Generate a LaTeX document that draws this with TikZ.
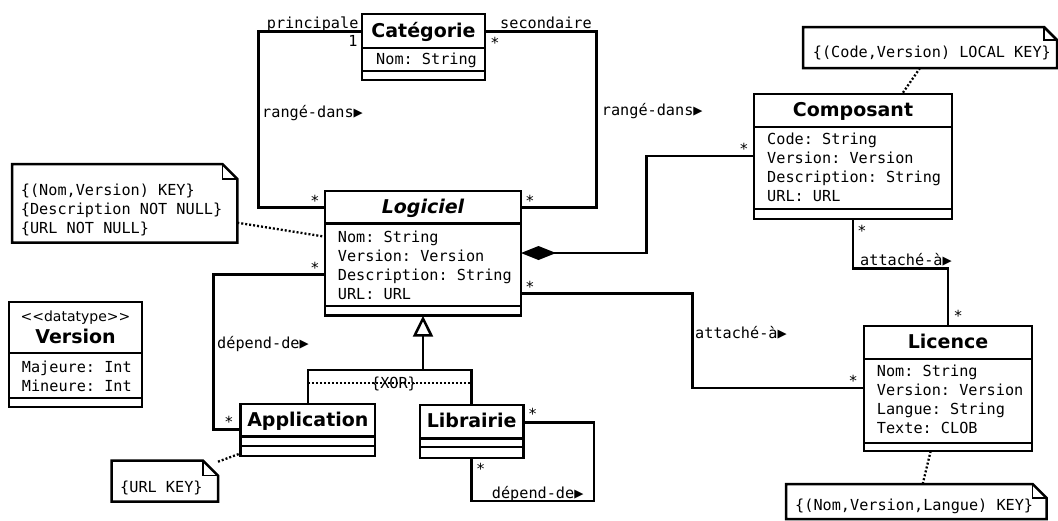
\documentclass[tikz,border=0pt]{standalone}
\usepackage{fontspec}
\setsansfont{DejaVu Sans}
\setmonofont{DejaVu Sans Mono}
\usetikzlibrary{arrows.meta}

\tikzset{
  x=1pt, y=-1pt,
  umlline/.style={line width=2.5pt, line join=miter},
  classbox/.style={draw, line width=2.6pt, fill=white, inner sep=0pt, outer sep=0pt, anchor=north west},
  sepline/.style={line width=2.6pt},
  cname/.style={font=\sffamily\bfseries\fontsize{19}{22}\selectfont, inner sep=0pt, text height=13.6pt, text depth=0pt},
  stereo/.style={font=\sffamily\fontsize{14}{17}\selectfont, inner sep=0pt, text height=10.5pt, text depth=0pt},
  attr/.style={font=\ttfamily\fontsize{15.2}{19}\selectfont, inner sep=0pt, anchor=west, text height=11pt, text depth=0pt},
  lbl/.style={attr},
  mult/.style={attr, anchor=center, yshift=-3.5pt},
  notebox/.style={inner sep=0pt, outer sep=0pt, anchor=north west},
  noteline/.style={line width=2.5pt, line join=miter},
  fold/.style={line width=1.2pt},
  link/.style={line width=2.3pt, dash pattern=on 2pt off 2pt},
}

\begin{document}
\begin{tikzpicture}
\fill[white] (0,0) rectangle (1058,520);
\useasboundingbox (0,0) rectangle (1058,520);

% ---------- classes ----------
% Categorie
\node[classbox, minimum width=123pt, minimum height=66pt] (categorie) at (362,14) {};
\draw[sepline] (categorie.west |- 0,48) -- (categorie.east |- 0,48);
\draw[sepline] (categorie.west |- 0,71) -- (categorie.east |- 0,71);
\node[cname] (categorie-name) at (categorie.north |- 0,30.5) {Catégorie};
\node[attr] (categorie-a1) at (376,59) {Nom: String};

% Logiciel (abstract)
\node[classbox, minimum width=196pt, minimum height=124.7pt] (logiciel) at (325,191) {};
\draw[sepline] (logiciel.west |- 0,223.3) -- (logiciel.east |- 0,223.3);
\draw[sepline] (logiciel.west |- 0,306) -- (logiciel.east |- 0,306);
\node[cname, font=\sffamily\bfseries\itshape\fontsize{19}{22}\selectfont] (logiciel-name) at (logiciel.north |- 0,207) {Logiciel};
\node[attr] (logiciel-a1) at (337.7,236.7) {Nom: String};
\node[attr] (logiciel-a2) at (337.7,255.7) {Version: Version};
\node[attr] (logiciel-a3) at (337.7,274.7) {Description: String};
\node[attr] (logiciel-a4) at (337.7,293.7) {URL: URL};

% Composant
\node[classbox, minimum width=198pt, minimum height=125pt] (composant) at (754,94) {};
\draw[sepline] (composant.west |- 0,127) -- (composant.east |- 0,127);
\draw[sepline] (composant.west |- 0,209) -- (composant.east |- 0,209);
\node[cname] (composant-name) at (composant.north |- 0,110) {Composant};
\node[attr] (composant-a1) at (767,139) {Code: String};
\node[attr] (composant-a2) at (767,158) {Version: Version};
\node[attr] (composant-a3) at (767,177) {Description: String};
\node[attr] (composant-a4) at (767,196) {URL: URL};

% Licence
\node[classbox, minimum width=168pt, minimum height=125pt] (licence) at (864,326) {};
\draw[sepline] (licence.west |- 0,359) -- (licence.east |- 0,359);
\draw[sepline] (licence.west |- 0,443) -- (licence.east |- 0,443);
\node[cname] (licence-name) at (licence.north |- 0,341.7) {Licence};
\node[attr] (licence-a1) at (876.7,371) {Nom: String};
\node[attr] (licence-a2) at (876.7,390) {Version: Version};
\node[attr] (licence-a3) at (876.7,409) {Langue: String};
\node[attr] (licence-a4) at (876.7,428) {Texte: CLOB};

% Version datatype
\node[classbox, minimum width=133pt, minimum height=105pt] (version) at (9,302) {};
\draw[sepline] (version.west |- 0,353) -- (version.east |- 0,353);
\draw[sepline] (version.west |- 0,398) -- (version.east |- 0,398);
\node[stereo] (version-st) at (version.north |- 0,316) {<\kern0pt<datatype>\kern0pt>};
\node[cname] (version-name) at (version.north |- 0,337) {Version};
\node[attr] (version-a1) at (21.7,366.5) {Majeure: Int};
\node[attr] (version-a2) at (21.7,385.5) {Mineure: Int};

% Application
\node[classbox, minimum width=134.3pt, minimum height=52pt] (application) at (240.7,404) {};
\draw[sepline] (application.west |- 0,436.7) -- (application.east |- 0,436.7);
\draw[sepline] (application.west |- 0,446) -- (application.east |- 0,446);
\node[cname] (application-name) at (application.north |- 0,419.5) {Application};

% Librairie
\node[classbox, minimum width=103.3pt, minimum height=53pt] (librairie) at (420,405) {};
\draw[sepline] (librairie.west |- 0,438.3) -- (librairie.east |- 0,438.3);
\draw[sepline] (librairie.west |- 0,447) -- (librairie.east |- 0,447);
\node[cname] (librairie-name) at (librairie.north |- 0,421) {Librairie};

% ---------- associations ----------
\draw[umlline] (categorie.west |- 0,31.7) -| (258.3,207.3) -- (logiciel.west |- 0,207.3);
\draw[umlline] (categorie.east |- 0,31.7) -| (596.7,207.3) -- (logiciel.east |- 0,207.3);
\draw[umlline, -{Diamond[length=35pt,width=14pt]}] (composant.west |- 0,156) -| (646.7,253) -- (logiciel.east |- 0,253);
\draw[umlline] (logiciel.east |- 0,293.3) -| (692.3,388) -- (licence.west |- 0,388);
\draw[umlline] (composant.south) |- (900,268.7) -| (licence.north);
\draw[umlline] (logiciel.west |- 0,274.3) -| (213.3,429.3) -- (application.west |- 0,429.3);
\draw[umlline] (librairie.east |- 0,422.3) -| (594,501) -| (librairie.south);

% generalization
\coordinate (gen) at (logiciel.south |- 0,370);
\draw[umlline] (application.north) |- (gen) -| (librairie.north);
\draw[umlline, -{Triangle[open,length=21pt,width=20pt]}] (gen) -- (logiciel.south);
\node[attr, anchor=center] (xor) at (394,382.7) {\{XOR\}};
\draw[link] (application.north |- 0,382.7) -- (librairie.north |- 0,382.7);

% association labels
\node[lbl] (lab-principale) at (266.7,22.7) {principale};
\node[attr, anchor=center] (m-cat-1) at (353,40.7) {1};
\node[lbl] (lab-secondaire) at (500,22.7) {secondaire};
\node[mult] (m-cat-2) at (495,39.3) {*};
\node[lbl] (lab-range1) at (262,112) {rangé-dans▶};
\node[lbl] (lab-range2) at (601.7,110) {rangé-dans▶};
\node[mult] (m-log-1) at (315,197) {*};
\node[mult] (m-log-2) at (530,197) {*};
\node[mult] (m-comp-1) at (744,145.7) {*};
\node[mult] (m-log-3) at (530,283) {*};
\node[mult] (m-lic-1) at (853.3,377.3) {*};
\node[lbl] (lab-attache1) at (695,333) {attaché-à▶};
\node[mult] (m-comp-2) at (862,227.7) {*};
\node[lbl] (lab-attache2) at (860,260) {attaché-à▶};
\node[mult] (m-lic-2) at (958.3,312.7) {*};
\node[mult] (m-log-4) at (315,264) {*};
\node[mult] (m-app-1) at (229,418) {*};
\node[lbl] (lab-depend1) at (217,343) {dépend-de▶};
\node[mult] (m-lib-1) at (532.7,410) {*};
\node[mult] (m-lib-2) at (480.7,465) {*};
\node[lbl] (lab-depend2) at (491.7,492.7) {dépend-de▶};

% ---------- notes ----------
% note on Logiciel
\node[notebox, minimum width=225.3pt, minimum height=78.7pt] (n1) at (12,164) {};
\draw[noteline, fill=white] (n1.north west) -- ([xshift=-15pt]n1.north east) -- ([yshift=-15pt]n1.north east) -- (n1.south east) -- (n1.south west) -- cycle;
\draw[fold] ([xshift=-15pt]n1.north east) |- ([yshift=-15pt]n1.north east);
\node[attr] (n1-t1) at (20.7,190) {\{(Nom,Version) KEY\}};
\node[attr] (n1-t2) at (20.7,209) {\{Description NOT NULL\}};
\node[attr] (n1-t3) at (20.7,227.7) {\{URL NOT NULL\}};
\draw[link] (n1.east |- 0,222.7) -- (logiciel.west |- 0,236.7);

% note on Composant
\node[notebox, minimum width=254pt, minimum height=41pt] (n2) at (803,27) {};
\draw[noteline, fill=white] (n2.north west) -- ([xshift=-13pt]n2.north east) -- ([yshift=-13pt]n2.north east) -- (n2.south east) -- (n2.south west) -- cycle;
\draw[fold] ([xshift=-13pt]n2.north east) |- ([yshift=-13pt]n2.north east);
\node[attr] (n2-t1) at (812.7,51.7) {\{(Code,Version) LOCAL KEY\}};
\draw[link] (n2.south -| 920,0) -- (composant.north -| 902,0);

% note on Application
\node[notebox, minimum width=106.3pt, minimum height=41pt] (n3) at (111.7,460.7) {};
\draw[noteline, fill=white] (n3.north west) -- ([xshift=-15pt]n3.north east) -- ([yshift=-15pt]n3.north east) -- (n3.south east) -- (n3.south west) -- cycle;
\draw[fold] ([xshift=-15pt]n3.north east) |- ([yshift=-15pt]n3.north east);
\node[attr] (n3-t1) at (120,486.7) {\{URL KEY\}};
\draw[link] (n3.east |- 0,461.7) -- (application.west |- 0,453.3);

% note on Licence
\node[notebox, minimum width=260.7pt, minimum height=35pt] (n4) at (786,484) {};
\draw[noteline, fill=white] (n4.north west) -- ([xshift=-14pt]n4.north east) -- ([yshift=-14pt]n4.north east) -- (n4.south east) -- (n4.south west) -- cycle;
\draw[fold] ([xshift=-14pt]n4.north east) |- ([yshift=-14pt]n4.north east);
\node[attr] (n4-t1) at (795,505) {\{(Nom,Version,Langue) KEY\}};
\draw[link] (n4.north -| 922.7,0) -- (licence.south -| 930.7,0);
\end{tikzpicture}
\end{document}
